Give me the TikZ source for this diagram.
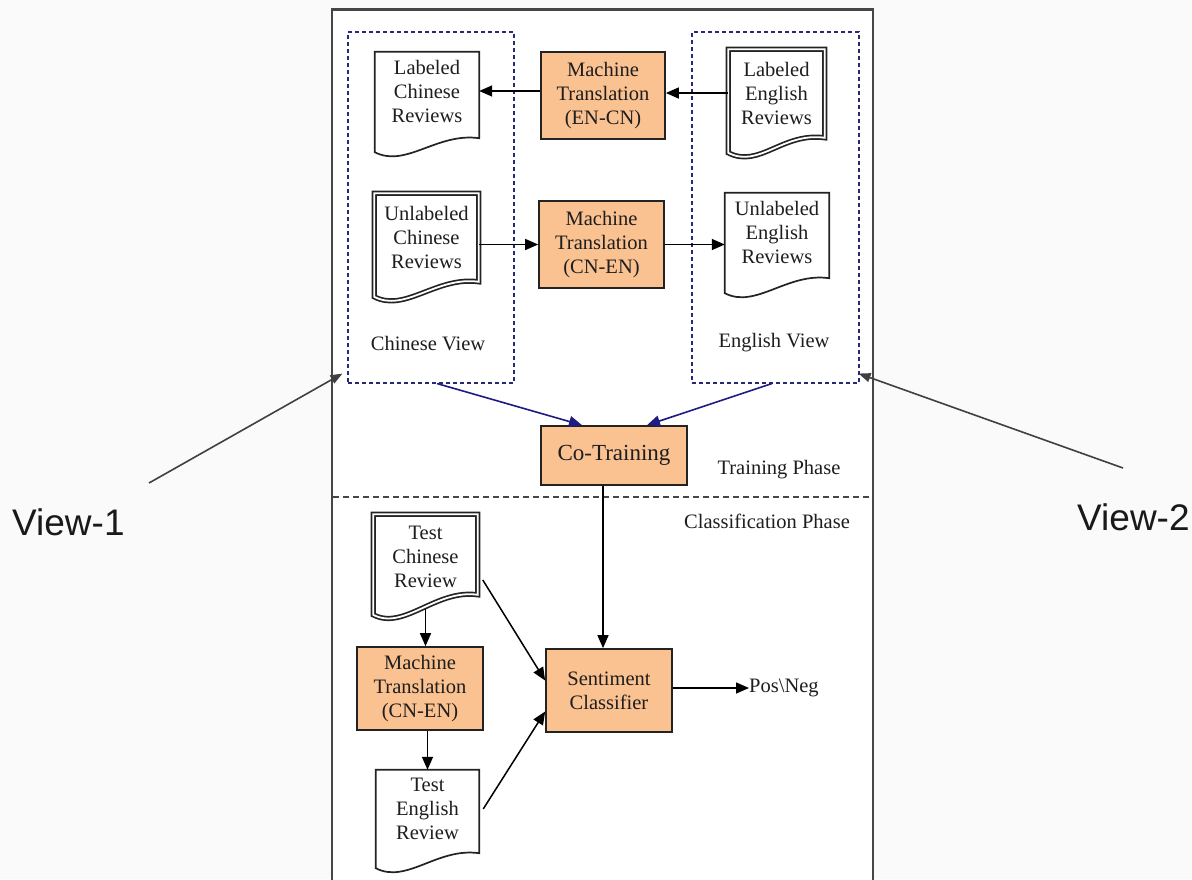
\documentclass[tikz,border=0pt]{standalone}
\usepackage{fontspec}
\setmainfont{Liberation Serif}
\newfontfamily\viewfont{Liberation Sans}
\usetikzlibrary{arrows.meta,calc}
\definecolor{procfill}{RGB}{250,193,145}
\definecolor{boxline}{RGB}{35,35,35}
\definecolor{txtcol}{RGB}{30,30,30}
\definecolor{navyline}{RGB}{28,28,130}
\definecolor{navydash}{RGB}{40,40,120}
\definecolor{framecol}{RGB}{70,70,70}
\definecolor{bgcol}{RGB}{250,250,250}
\newcommand\docshape[4][]{%
  \draw[docline,#1] (#2.north west) -- (#2.north east) -- ($(#2.south east)+(0,#4)$)
    .. controls ($(#2.south east)+(-42,#4-6)$) and ($(#2.south west)+(31,#3+16)$) ..
    ($(#2.south west)+(0,#3)$) -- cycle;}
\tikzset{
  txt/.style={font=\fontsize{20.5}{24}\selectfont, text=txtcol, align=center, inner sep=0pt},
  proc/.style={txt, draw=boxline, fill=procfill, line width=1.7pt, rectangle},
  docnode/.style={txt, rectangle},
  docline/.style={draw=boxline, line width=1.7pt},
  dbl/.style={double=white, double distance=1.8pt, line width=1.7pt},
  arr/.style={-{Triangle[length=13pt,width=11pt]}, line width=1.5pt, draw=black},
  bluearr/.style={-{Triangle[length=13pt,width=11pt]}, line width=1.6pt, draw=navyline, fill=navyline},
  grayarr/.style={-{Triangle[length=12pt,width=9pt]}, line width=1.6pt, draw=black!75},
  viewbox/.style={draw=navydash, dash pattern=on 4pt off 3pt, line width=1.1pt, rectangle, inner sep=0pt},
  viewlbl/.style={font=\viewfont\fontsize{37}{40}\selectfont, text=black!90, inner sep=0pt, anchor=west},
}
\begin{document}
\begin{tikzpicture}[x=1pt,y=-1pt]
\useasboundingbox (0,0) rectangle (1192,879);
\clip (0,0) rectangle (1192,879);
\fill[bgcol] (0,0) rectangle (1192,879);
% frame
\draw[framecol, line width=2.2pt, fill=white] (332,9.5) rectangle (873,900);
\draw[framecol, line width=1.6pt, dash pattern=on 6pt off 4pt] (333,497) -- (872,497);

% view boxes
\node[viewbox, minimum width=166pt, minimum height=351pt] (cv) at (431,207.5) {};
\node[viewbox, minimum width=167pt, minimum height=351pt] (ev) at (775.5,207.5) {};
\node[txt] (cvl) at (428,344) {Chinese View};
\node[txt] (evl) at (774,343) {English View};

% documents
\node[docnode, minimum width=104pt, minimum height=78pt] (lc) at (427,91) {Labeled\\Chinese\\Reviews};
\docshape{lc}{22}{8}
\node[docnode, minimum width=96.2pt, minimum height=87.2pt] (le) at (776.5,93) {Labeled\\English\\Reviews};
\docshape[dbl]{le}{16}{1}
\node[docnode, minimum width=104.2pt, minimum height=87.2pt] (uc) at (426.5,237) {Unlabeled\\Chinese\\Reviews};
\docshape[dbl]{uc}{16}{1}
\node[docnode, minimum width=104pt, minimum height=78pt] (ue) at (777,232) {Unlabeled\\English\\Reviews};
\docshape{ue}{22}{7}
\node[docnode, minimum width=104.2pt, minimum height=85.2pt] (tc) at (425.5,557) {Test\\Chinese\\Review};
\docshape[dbl]{tc}{15}{-5}
\node[docnode, minimum width=103pt, minimum height=78pt] (te) at (427.5,809) {Test\\English\\Review};
\docshape{te}{20}{5}

% process boxes
\node[proc, minimum width=124pt, minimum height=87pt] (mt1) at (603,95.5) {Machine\\Translation\\(EN-CN)};
\node[proc, minimum width=125pt, minimum height=87pt] (mt2) at (601.5,244.5) {Machine\\Translation\\(CN-EN)};
\node[proc, minimum width=146pt, minimum height=59pt, font=\fontsize{23}{26}\selectfont] (ct) at (614,455.5) {Co-Training};
\node[proc, minimum width=126pt, minimum height=83pt] (mt3) at (420,688.5) {Machine\\Translation\\(CN-EN)};
\node[proc, minimum width=126pt, minimum height=83pt] (sc) at (609,690.5) {Sentiment\\Classifier};
\node[txt, anchor=west] (pn) at (749,688) {Pos\textbackslash Neg};

% phase labels
\node[txt] (tp) at (779,470) {Training Phase};
\node[txt] (cp) at (767,521) {Classification Phase};

% connectors top
\draw[arr] (le.west) -- (le.west -| mt1.east);
\draw[arr] (mt1.west |- lc.east) -- (lc.east);
\draw[arr] (uc.east |- mt2.west) -- (mt2.west);
\draw[arr] (mt2.east) -- (mt2.east -| ue.west);
\draw[bluearr] ([xshift=6pt]cv.south) -- ([xshift=-32pt]ct.north);
\draw[bluearr] ([xshift=-3.5pt]ev.south) -- ([xshift=33pt]ct.north);

% connectors bottom
\draw[arr] ([xshift=-11pt]ct.south) -- ([xshift=-11pt]ct.south |- sc.north);
\draw[arr] ([yshift=-9pt]tc.south) -- (tc.south |- mt3.north);
\draw[arr] (mt3.south -| te.north) -- (te.north);
\draw[arr] ([xshift=5pt,yshift=-23pt]tc.east) -- ([yshift=10pt]sc.west);
\draw[arr] ([xshift=4pt]te.east) -- ([yshift=-21pt]sc.west);
\draw[arr] (sc.east |- pn.west) -- (pn.west);

% view labels
\node[viewlbl] (v1) at (12,522) {View-1};
\node[viewlbl] (v2) at (1077,517) {View-2};
\coordinate (v1s) at (149,483);
\coordinate (v2s) at (1123,468);
\draw[grayarr] (v1s) -- ([xshift=-5pt,yshift=10pt]cv.south west);
\draw[grayarr] (v2s) -- ([xshift=-1pt,yshift=10pt]ev.south east);
\end{tikzpicture}
\end{document}
